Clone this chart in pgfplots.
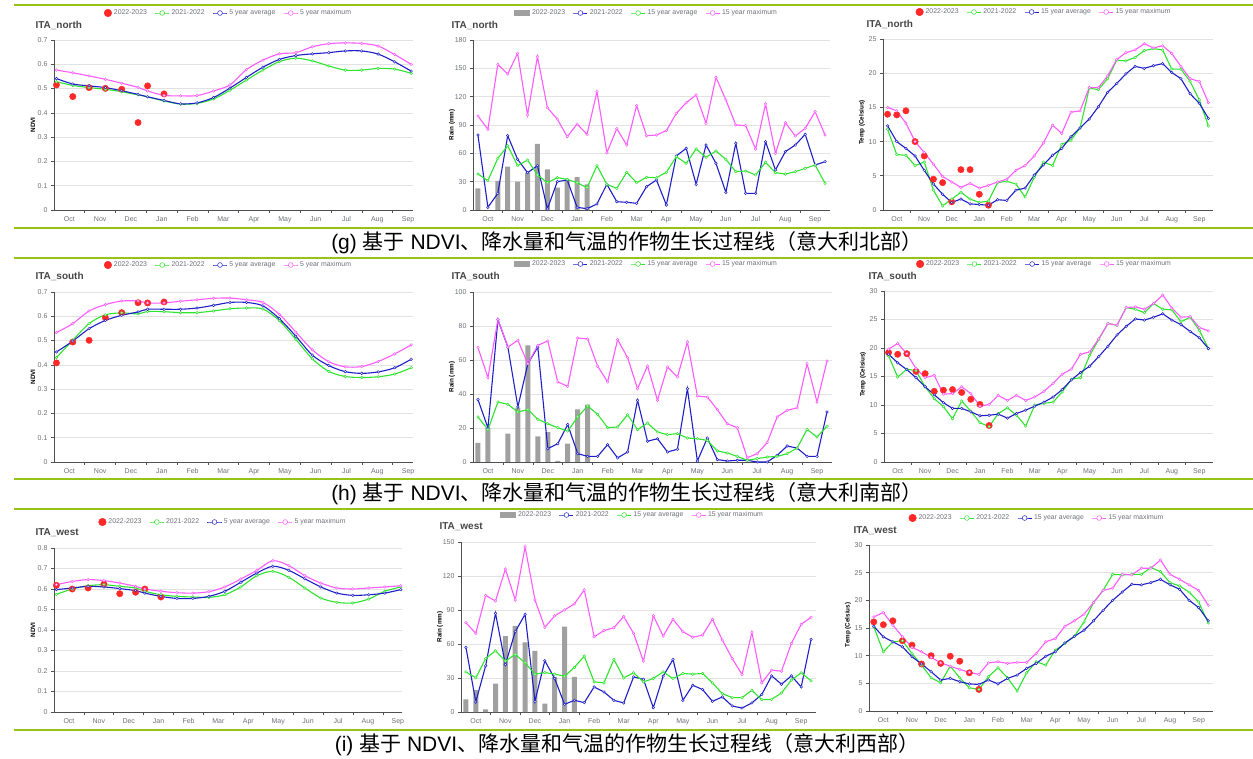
\documentclass[border=0pt]{standalone}
\usepackage{fontspec}
\setmainfont{Liberation Sans}
\newfontfamily\cjk{Noto Sans CJK SC}
\usepackage{pgfplots}
\usepackage{pgfplotstable}
\pgfplotsset{compat=1.18}

\definecolor{cgreen}{RGB}{45,228,45}
\definecolor{cblue}{RGB}{30,30,200}
\definecolor{cmag}{RGB}{255,90,255}
\definecolor{cred}{RGB}{255,40,40}
\definecolor{cbar}{RGB}{160,160,160}
\definecolor{sepgreen}{RGB}{150,195,20}
\definecolor{tickgray}{RGB}{110,112,121}
\definecolor{axgray}{RGB}{80,80,80}
\definecolor{gridgray}{RGB}{226,226,226}
\definecolor{titlegray}{RGB}{70,70,70}

\pgfplotsset{
  panel/.style={
    scale only axis, clip=false,
    axis x line*=bottom, axis y line*=left,
    axis line style={axgray, line width=0.6pt},
    ymajorgrids, grid style={gridgray, line width=0.6pt},
    tick align=outside,
    major tick length=3pt, minor tick length=3pt,
    major x tick style={draw=none},
    minor x tick style={axgray, line width=0.6pt},
    major y tick style={axgray, line width=0.6pt},
    ymin=0,
    /pgf/number format/assume math mode=true,
    ticklabel style={font=\fontsize{7}{8}\selectfont, text=tickgray},
    yticklabel style={/pgf/number format/fixed},
    xticklabels={Oct,Nov,Dec,Jan,Feb,Mar,Apr,May,Jun,Jul,Aug,Sep},
    every axis y label/.style={at={(axis description cs:0,0.5)}, xshift=-21pt, rotate=90, anchor=center, font=\bfseries\fontsize{6.3}{7}\selectfont, text=black},
    every axis title/.style={at={(axis description cs:0,1)}, anchor=west, font=\bfseries\fontsize{10}{12}\selectfont, text=titlegray},
    legend columns=4,
    legend style={draw=none, fill=none, font=\fontsize{6.9}{7.5}\selectfont, text=tickgray, anchor=center,
      /tikz/every even column/.append style={column sep=6pt}},
  },
  ndvi/.style={panel, xmin=0, xtick={0.5,1.5,...,11.5}, minor xtick={1,2,...,11}, ylabel={NDVI}},
  dek/.style={panel, xmin=0, xmax=36, xtick={1.5,4.5,...,34.5}, minor xtick={3,6,...,33}},
  ser/.style={line width=1.1pt, mark=*, mark size=1.3pt, mark options={fill=white, line width=0.5pt},
    legend image code/.code={\draw[mark repeat=2,mark phase=2,##1, line width=0.7pt, mark size=2.4pt] plot coordinates {(0pt,0pt)(7pt,0pt)(14pt,0pt)};}},
  reddot/.style={only marks, mark=*, mark size=3.2pt, color=cred, mark options={fill=cred, draw=none},
    legend image code/.code={\fill[cred] (4pt,0pt) circle (3.8pt);}},
  rbar/.style={ybar, bar width=5pt, fill=cbar, draw=none,
    legend image code/.code={\fill[cbar] (0pt,-3.2pt) rectangle (16pt,3.2pt);}},
}

% ---------------- NDVI tables ----------------
\pgfplotstableread{
x g b m
0.08 0.528 0.541 0.576
0.61 0.513 0.519 0.565
1.14 0.504 0.511 0.552
1.67 0.497 0.504 0.538
2.20 0.487 0.491 0.522
2.73 0.474 0.476 0.505
3.04 0.466 0.466 0.490
3.575 0.449 0.451 0.472
4.11 0.436 0.437 0.470
4.645 0.439 0.441 0.471
5.18 0.457 0.463 0.490
5.715 0.493 0.502 0.515
6.25 0.535 0.546 0.578
6.785 0.576 0.588 0.617
7.32 0.611 0.620 0.643
7.855 0.625 0.636 0.648
8.39 0.614 0.643 0.672
8.925 0.593 0.648 0.685
9.46 0.576 0.655 0.688
9.995 0.576 0.655 0.686
10.53 0.583 0.642 0.675
11.065 0.580 0.610 0.640
11.60 0.563 0.572 0.600
}\ndvinorth

\pgfplotstableread{
x g b m
0.08 0.430 0.453 0.533
0.61 0.501 0.498 0.570
1.14 0.570 0.549 0.622
1.67 0.606 0.583 0.648
2.20 0.614 0.604 0.663
2.73 0.610 0.618 0.663
3.04 0.620 0.629 0.655
3.575 0.619 0.629 0.655
4.11 0.615 0.629 0.662
4.645 0.615 0.634 0.668
5.18 0.622 0.645 0.674
5.715 0.631 0.657 0.675
6.25 0.634 0.657 0.668
6.785 0.630 0.643 0.657
7.32 0.582 0.590 0.608
7.855 0.505 0.518 0.535
8.39 0.425 0.440 0.462
8.925 0.373 0.397 0.413
9.46 0.352 0.372 0.392
9.995 0.348 0.365 0.393
10.53 0.351 0.371 0.414
11.065 0.362 0.388 0.445
11.60 0.388 0.423 0.482
}\ndvisouth

\pgfplotstableread{
x g b m
0.08 0.574 0.597 0.621
0.61 0.600 0.605 0.637
1.14 0.616 0.613 0.646
1.67 0.621 0.610 0.641
2.20 0.613 0.602 0.629
2.73 0.605 0.592 0.613
3.04 0.589 0.580 0.600
3.575 0.572 0.564 0.589
4.11 0.564 0.554 0.582
4.645 0.561 0.554 0.580
5.18 0.559 0.564 0.587
5.715 0.572 0.589 0.610
6.25 0.610 0.633 0.649
6.785 0.665 0.678 0.691
7.32 0.686 0.711 0.738
7.855 0.657 0.691 0.714
8.39 0.605 0.650 0.665
8.925 0.556 0.610 0.629
9.46 0.535 0.580 0.605
9.995 0.532 0.569 0.600
10.53 0.551 0.572 0.605
11.065 0.589 0.580 0.610
11.60 0.610 0.597 0.616
}\ndviwest

% ---------------- Rain tables (x, blue 2021-22, green 15y avg, magenta 15y max) ----------------
\pgfplotstableread{
x b g m
0.5 79.4 38.1 99.5
1.5 2.8 31.1 85.4
2.5 17.6 54.7 154.2
3.5 78.7 68.1 144
4.5 53.6 46.9 165.9
5.5 39.5 52.9 100.6
6.5 46.9 37.1 162.4
7.5 1.1 28.9 108.3
8.5 30 34.2 96.3
9.5 31.8 32.5 77.6
10.5 2.8 28.9 91
11.5 1.4 23.6 80.1
12.5 6.4 46.9 125.3
13.5 27.2 27.2 60.7
14.5 8.8 22.9 86.1
15.5 8.1 39.9 68.8
16.5 7.1 28.9 110.5
17.5 24.7 34.6 78.7
18.5 31.8 34.2 79.4
19.5 5.3 39.9 84
20.5 57.2 56.5 102.3
21.5 65.3 49.4 113.6
22.5 27.2 64.6 121.8
23.5 68.8 55.8 91.8
24.5 49.4 62.5 140.5
25.5 18.7 53.6 116.5
26.5 70.6 40.6 90
27.5 17.6 41.3 89.3
28.5 17.6 37.1 64.6
29.5 72.3 50.5 112.2
30.5 42.4 39.5 60
31.5 61.8 38.1 92.5
32.5 68.8 40.6 78.3
33.5 80.1 44.1 86.5
34.5 47.6 47.6 104.1
35.5 51.2 28.2 79.4
}\rainnorth

\pgfplotstableread{
x b g m
0.5 36.7 26.5 67.3
1.5 20 19 49.6
2.5 83.7 35.3 83.9
3.5 67.6 33.9 67.6
4.5 32.4 29.4 71.6
5.5 57.8 30.8 57.8
6.5 67.6 25.1 68.6
7.5 7.8 22.5 71.2
8.5 10.8 20.2 47.1
9.5 22 18.2 44.5
10.5 4.9 26.5 72.9
11.5 3.3 32.9 72.4
12.5 3.3 28 56.3
13.5 10.2 20.2 47.1
14.5 2.4 20.6 72
15.5 5.9 27.8 61.4
16.5 36.3 19 43.1
17.5 12.2 22.9 56.5
18.5 13.7 17.6 36.3
19.5 5.9 16.1 55.9
20.5 7.5 16.7 50
21.5 43.1 14.1 70.6
22.5 0.6 13.7 38.8
23.5 14.1 12.7 38.2
24.5 1.4 6.5 30.8
25.5 0.6 5.3 22.5
26.5 1 3.3 20.2
27.5 1 1 2.5
28.5 0 2 4.9
29.5 0 2.9 11.4
30.5 3.9 3.3 26.5
31.5 9.4 4.9 30.4
32.5 8.2 8.2 31.8
33.5 3.3 19.2 57.8
34.5 3.3 14.7 35.3
35.5 29.4 21 59.4
}\rainsouth

\pgfplotstableread{
x b g m
0.5 57 35.4 78.8
1.5 8.9 30.1 69.4
2.5 40.8 47.2 102.8
3.5 87.1 54 98
4.5 41.9 44.9 126.1
5.5 70.9 50.8 98.9
6.5 86.2 43.4 145.6
7.5 9.4 33.4 98.9
8.5 45.2 34.8 74.7
9.5 29.5 33.4 84.8
10.5 6.8 31.6 90.1
11.5 10.3 39.3 95.4
12.5 8.3 49.3 107.8
13.5 22.1 26.6 66.4
14.5 17.7 25.7 71.8
15.5 10.3 46.4 74.4
16.5 8 30.1 84.2
17.5 31 34.6 69.4
18.5 28.9 26.6 44.9
19.5 3.8 29.5 85
20.5 31.6 35.4 67
21.5 46.4 29.5 81.8
22.5 10.3 34 70.9
23.5 23.6 33.4 65.9
24.5 19.8 34 67.9
25.5 9.4 25.7 81.8
26.5 13.3 16.2 63.5
27.5 5.3 12.7 47.2
28.5 3.5 12.7 33.1
29.5 8 19.2 70.3
30.5 15.4 10.9 25.7
31.5 31.9 11.2 36.9
32.5 24.5 16.8 36
33.5 31.9 28.1 60.5
34.5 22.1 34.6 77.4
35.5 64.1 27.5 83.6
}\rainwest

% ---------------- Temperature tables (x, green 2021-22, blue 15y avg, magenta 15y max) ----------------
\pgfplotstableread{
x g b m
0.5 11.8 12.3 15
1.5 8.1 10 14.5
2.5 8 9 12.7
3.5 6.5 7.9 10
4.5 7 5.8 8.4
5.5 2.9 3.8 6.7
6.5 0.6 2.3 4.9
7.5 1.6 1.1 4.1
8.5 2.6 1.6 3.3
9.5 1.6 0.9 3.9
10.5 1.1 0.8 3.2
11.5 1.3 0.7 3.6
12.5 4 1.5 4.1
13.5 4.2 1.4 4.5
14.5 3.8 2.9 5.8
15.5 1.9 3.2 6.5
16.5 4.8 5.1 7.9
17.5 7 6.6 9.8
18.5 6.5 8 12.4
19.5 9.6 9 11.2
20.5 10.2 10.7 14.3
21.5 12 12 14.5
22.5 17.8 13.3 17.9
23.5 17.6 15.1 17.9
24.5 19.2 17.2 19.6
25.5 21.9 18.5 22
26.5 21.8 19.9 23
27.5 22.3 21 23.4
28.5 23.3 20.7 24.3
29.5 23.6 21.1 23.7
30.5 23.4 21.4 24
31.5 20.6 20.1 22.9
32.5 20.6 19.2 21
33.5 18.8 17 19.2
34.5 16.1 15.6 18.8
35.5 12.3 13.4 15.7
}\tempnorth

\pgfplotstableread{
x g b m
0.5 18.6 18.9 19.8
1.5 14.9 17.4 20.8
2.5 16.3 16.2 19
3.5 16 14.8 16.4
4.5 13.2 13.2 14.8
5.5 11.1 11.8 15.2
6.5 9.7 10.4 11.9
7.5 7.6 9.4 12
8.5 10.7 9.4 13.2
9.5 8.9 8.8 12
10.5 6.9 8.1 9.8
11.5 6.2 8.2 10.1
12.5 8.5 8.4 11.7
13.5 9.5 7.7 10.8
14.5 8.2 8.5 11.7
15.5 6.3 9.1 10.8
16.5 10 9.8 11.4
17.5 10.3 10.5 12.4
18.5 10.5 11.4 13.8
19.5 12.3 12.7 15.4
20.5 14.5 14.4 16.3
21.5 14.8 15.7 18.9
22.5 18.7 16.8 19.3
23.5 21.5 18.5 21.6
24.5 24.3 20.3 24.3
25.5 24 22.3 24
26.5 27.1 23.8 27.1
27.5 26.8 25.1 27.2
28.5 26.2 24.9 26.8
29.5 27.8 25.4 27.8
30.5 26.8 26 29.3
31.5 26.7 24.9 27
32.5 24.6 24.1 25.4
33.5 25.4 22.9 25.5
34.5 23.1 21.8 23.6
35.5 19.9 19.9 23
}\tempsouth

\pgfplotstableread{
x g b m
0.5 15.2 15.3 17
1.5 10.7 13.4 17.8
2.5 12.5 12.5 15.5
3.5 12.7 11.6 13.4
4.5 10.4 9.8 11.5
5.5 8.3 8.5 10.7
6.5 6 7.1 9.7
7.5 5.1 5.6 8.7
8.5 8.1 5.9 8.1
9.5 6 5.3 7.5
10.5 4.2 4.9 7.0
11.5 3.9 4.8 6.6
12.5 6.2 5.6 8.7
13.5 7.8 4.9 8.9
14.5 6 5.9 8.6
15.5 3.6 6.5 8.8
16.5 6.9 7.7 8.8
17.5 8.9 8.6 10.4
18.5 8.3 9.9 12.5
19.5 11 10.7 13.1
20.5 12.2 12.3 15.3
21.5 13.5 13.5 16.3
22.5 16.1 14.6 17.5
23.5 19.6 16.3 19.6
24.5 21.8 18.2 21.8
25.5 24.7 20 22.2
26.5 24.6 21.5 24.7
27.5 24.7 22.9 24.6
28.5 24.7 22.8 25.8
29.5 25.9 23.2 25.8
30.5 25.2 23.8 27.3
31.5 23.2 22.8 24.7
32.5 22.6 22 23.8
33.5 21.5 20 22.8
34.5 19.7 18.7 21.8
35.5 15.9 16.3 19.1
}\tempwest

\newcommand\capline[2]{{\fontsize{21}{25}\selectfont (#1) {\cjk 基于} NDVI{\cjk 、降水量和气温的作物生长过程线（意大利#2部）}}}

\begin{document}
\begin{tikzpicture}
\useasboundingbox (0pt,0pt) rectangle (1253pt,758pt);

% separators and captions
\foreach \yy in {753,530,500,279,249,28} {\draw[sepgreen, line width=2.6pt] (14pt,\yy pt) -- (1253pt,\yy pt);}
\node at (627pt,515pt) {\capline{g}{北}};
\node at (627pt,264pt) {\capline{h}{南}};
\node at (627pt,13pt) {\capline{i}{西}};

% ================= ROW 1 : north =================
\begin{axis}[ndvi, at={(54pt,548pt)}, anchor=south west, width=359pt, height=170pt, xmax=11.66,
  ymax=0.7, ytick={0,0.1,0.2,0.3,0.4,0.5,0.6,0.7},
  title={ITA\_north}, title style={xshift=-22pt, yshift=15pt},
  legend style={at={(axis description cs:0.5,1)}, xshift=-5pt, yshift=27pt}]
\addplot[reddot] coordinates {(0.08,0.515)(0.61,0.467)(1.14,0.504)(1.67,0.501)(2.20,0.497)(2.73,0.360)(3.04,0.511)(3.575,0.478)};
\addlegendentry{2022-2023}
\addplot[ser, smooth, cgreen] table[x=x,y=g]{\ndvinorth};
\addlegendentry{2021-2022}
\addplot[ser, smooth, cblue] table[x=x,y=b]{\ndvinorth};
\addlegendentry{5 year average}
\addplot[ser, smooth, cmag] table[x=x,y=m]{\ndvinorth};
\addlegendentry{5 year maximum}
\end{axis}

\begin{axis}[dek, at={(473pt,548pt)}, anchor=south west, width=357pt, height=170pt,
  ymax=180, ytick={0,30,...,180}, ylabel={Rain (mm)},
  title={ITA\_north}, title style={xshift=-25pt, yshift=15pt},
  legend style={at={(axis description cs:0.5,1)}, xshift=-5pt, yshift=27pt}]
\addplot[rbar] coordinates {(0.5,23)(2.5,30.7)(3.5,45.9)(4.5,30)(5.5,39.5)(6.5,69.9)(7.5,43.1)(8.5,23.6)(9.5,32.5)(10.5,34.9)(11.5,27)};
\addlegendentry{2022-2023}
\addplot[ser, cblue] table[x=x,y=b]{\rainnorth};
\addlegendentry{2021-2022}
\addplot[ser, cgreen] table[x=x,y=g]{\rainnorth};
\addlegendentry{15 year average}
\addplot[ser, cmag] table[x=x,y=m]{\rainnorth};
\addlegendentry{15 year maximum}
\end{axis}

\begin{axis}[dek, at={(883pt,548pt)}, anchor=south west, width=330pt, height=171pt,
  ymax=25, ytick={0,5,...,25}, ylabel={Temp (Celsius)}, ylabel style={xshift=2pt},
  title={ITA\_north}, title style={xshift=-20pt, yshift=15pt},
  legend style={at={(axis description cs:0.5,1)}, xshift=-4pt, yshift=27pt}]
\addplot[reddot] coordinates {(0.5,14)(1.5,13.9)(2.5,14.5)(3.5,10)(4.5,7.9)(5.5,4.5)(6.5,4)(7.5,1.2)(8.5,5.9)(9.5,5.9)(10.5,2.3)(11.5,0.7)};
\addlegendentry{2022-2023}
\addplot[ser, cgreen] table[x=x,y=g]{\tempnorth};
\addlegendentry{2021-2022}
\addplot[ser, cblue] table[x=x,y=b]{\tempnorth};
\addlegendentry{15 year average}
\addplot[ser, cmag] table[x=x,y=m]{\tempnorth};
\addlegendentry{15 year maximum}
\end{axis}

% ================= ROW 2 : south =================
\begin{axis}[ndvi, at={(54pt,296pt)}, anchor=south west, width=359pt, height=170pt, xmax=11.66,
  ymax=0.7, ytick={0,0.1,0.2,0.3,0.4,0.5,0.6,0.7},
  title={ITA\_south}, title style={xshift=-22pt, yshift=16pt},
  legend style={at={(axis description cs:0.5,1)}, xshift=-5pt, yshift=27pt}]
\addplot[reddot] coordinates {(0.08,0.408)(0.61,0.494)(1.14,0.501)(1.67,0.594)(2.20,0.615)(2.73,0.656)(3.04,0.655)(3.575,0.659)};
\addlegendentry{2022-2023}
\addplot[ser, smooth, cgreen] table[x=x,y=g]{\ndvisouth};
\addlegendentry{2021-2022}
\addplot[ser, smooth, cblue] table[x=x,y=b]{\ndvisouth};
\addlegendentry{5 year average}
\addplot[ser, smooth, cmag] table[x=x,y=m]{\ndvisouth};
\addlegendentry{5 year maximum}
\end{axis}

\begin{axis}[dek, at={(473pt,296pt)}, anchor=south west, width=359pt, height=170pt,
  ymax=100, ytick={0,20,...,100}, ylabel={Rain (mm)},
  title={ITA\_south}, title style={xshift=-25pt, yshift=16pt},
  legend style={at={(axis description cs:0.5,1)}, xshift=-6pt, yshift=28pt}]
\addplot[rbar] coordinates {(0.5,11.2)(1.5,20)(3.5,16.7)(4.5,32)(5.5,68.6)(6.5,15.1)(7.5,17.6)(8.5,0.6)(9.5,10.8)(10.5,31)(11.5,33.7)};
\addlegendentry{2022-2023}
\addplot[ser, cblue] table[x=x,y=b]{\rainsouth};
\addlegendentry{2021-2022}
\addplot[ser, cgreen] table[x=x,y=g]{\rainsouth};
\addlegendentry{15 year average}
\addplot[ser, cmag] table[x=x,y=m]{\rainsouth};
\addlegendentry{15 year maximum}
\end{axis}

\begin{axis}[dek, at={(884pt,296pt)}, anchor=south west, width=329pt, height=171pt,
  ymax=30, ytick={0,5,...,30}, ylabel={Temp (Celsius)}, ylabel style={xshift=2pt},
  title={ITA\_south}, title style={xshift=-19pt, yshift=15pt},
  legend style={at={(axis description cs:0.5,1)}, xshift=-4pt, yshift=27pt}]
\addplot[reddot] coordinates {(0.5,19.2)(1.5,18.9)(2.5,19)(3.5,15.9)(4.5,15.5)(5.5,12.4)(6.5,12.6)(7.5,12.7)(8.5,12.2)(9.5,11)(10.5,10.1)(11.5,6.4)};
\addlegendentry{2022-2023}
\addplot[ser, cgreen] table[x=x,y=g]{\tempsouth};
\addlegendentry{2021-2022}
\addplot[ser, cblue] table[x=x,y=b]{\tempsouth};
\addlegendentry{15 year average}
\addplot[ser, cmag] table[x=x,y=m]{\tempsouth};
\addlegendentry{15 year maximum}
\end{axis}

% ================= ROW 3 : west =================
\begin{axis}[ndvi, at={(54pt,46pt)}, anchor=south west, width=348pt, height=164pt, xmax=11.64,
  ymax=0.8, ytick={0,0.1,0.2,0.3,0.4,0.5,0.6,0.7,0.8},
  title={ITA\_west}, title style={xshift=-22pt, yshift=15pt},
  legend style={at={(axis description cs:0.5,1)}, xshift=-5pt, yshift=26pt}]
\addplot[reddot] coordinates {(0.08,0.618)(0.61,0.600)(1.14,0.605)(1.67,0.624)(2.20,0.577)(2.73,0.584)(3.04,0.600)(3.575,0.561)};
\addlegendentry{2022-2023}
\addplot[ser, smooth, cgreen] table[x=x,y=g]{\ndviwest};
\addlegendentry{2021-2022}
\addplot[ser, smooth, cblue] table[x=x,y=b]{\ndviwest};
\addlegendentry{5 year average}
\addplot[ser, smooth, cmag] table[x=x,y=m]{\ndviwest};
\addlegendentry{5 year maximum}
\end{axis}

\begin{axis}[dek, at={(461pt,46pt)}, anchor=south west, width=355pt, height=170pt,
  ymax=150, ytick={0,30,...,150}, ylabel={Rain (mm)},
  title={ITA\_west}, title style={xshift=-25pt, yshift=15pt},
  legend style={at={(axis description cs:0.5,1)}, xshift=-6pt, yshift=27pt}]
\addplot[rbar] coordinates {(0.5,11.2)(1.5,19.2)(2.5,2.4)(3.5,25.1)(4.5,67)(5.5,75.9)(6.5,61.4)(7.5,54)(8.5,7.4)(9.5,31)(10.5,75.3)(11.5,31)};
\addlegendentry{2022-2023}
\addplot[ser, cblue] table[x=x,y=b]{\rainwest};
\addlegendentry{2021-2022}
\addplot[ser, cgreen] table[x=x,y=g]{\rainwest};
\addlegendentry{15 year average}
\addplot[ser, cmag] table[x=x,y=m]{\rainwest};
\addlegendentry{15 year maximum}
\end{axis}

\begin{axis}[dek, at={(869pt,47pt)}, anchor=south west, width=344pt, height=166pt,
  ymax=30, ytick={0,5,...,30}, ylabel={Temp (Celsius)}, ylabel style={xshift=3pt},
  title={ITA\_west}, title style={xshift=-19pt, yshift=14pt},
  legend style={at={(axis description cs:0.5,1)}, xshift=-4pt, yshift=27pt}]
\addplot[reddot] coordinates {(0.5,16.1)(1.5,15.6)(2.5,16.3)(3.5,12.7)(4.5,11.9)(5.5,8.5)(6.5,10)(7.5,8.6)(8.5,9.9)(9.5,9)(10.5,6.9)(11.5,3.9)};
\addlegendentry{2022-2023}
\addplot[ser, cgreen] table[x=x,y=g]{\tempwest};
\addlegendentry{2021-2022}
\addplot[ser, cblue] table[x=x,y=b]{\tempwest};
\addlegendentry{15 year average}
\addplot[ser, cmag] table[x=x,y=m]{\tempwest};
\addlegendentry{15 year maximum}
\end{axis}

\end{tikzpicture}
\end{document}
